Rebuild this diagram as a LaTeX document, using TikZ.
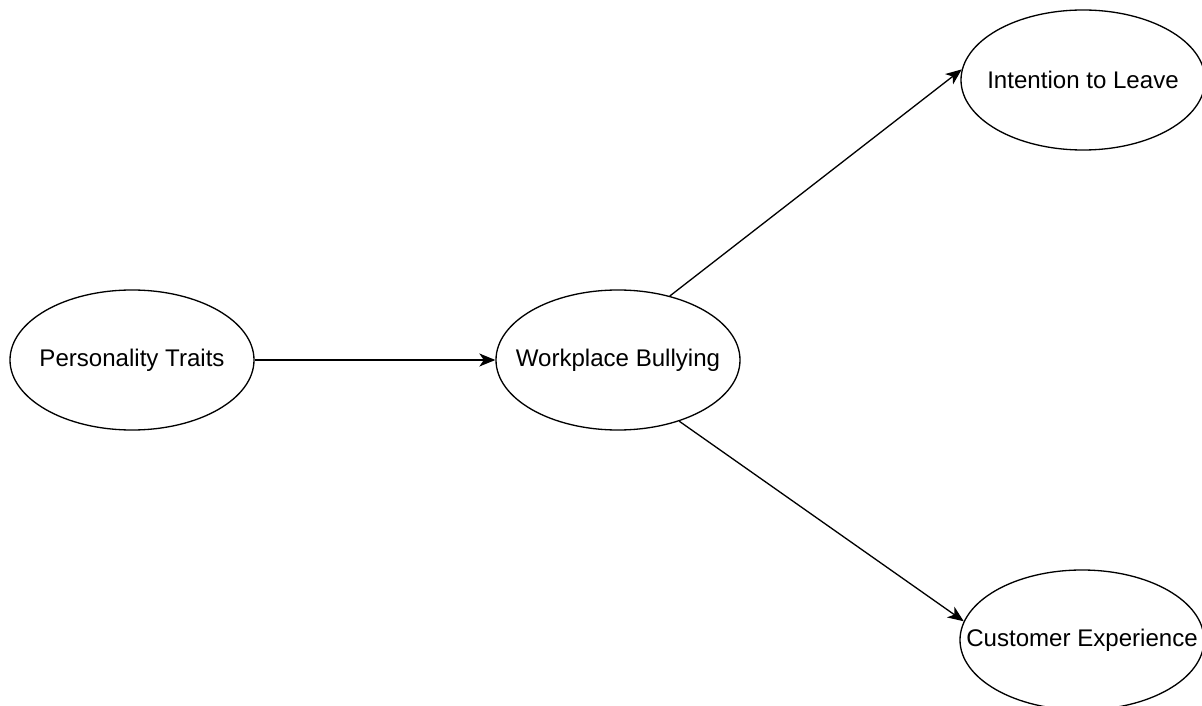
\documentclass[tikz,border=0pt]{standalone}
\usepackage{fontspec}
\setmainfont{Liberation Sans}
\usetikzlibrary{arrows.meta,shapes.geometric}

\begin{document}
\begin{tikzpicture}[>=Stealth,
 e/.style={ellipse,draw,line width=0.75pt,minimum width=4.88cm,minimum height=2.80cm,
   inner xsep=-2cm,inner ysep=0pt,font=\fontsize{13.7}{16}\selectfont},
 a/.style={-{Stealth[length=3.2mm,width=2.6mm,inset=0.9mm]},line width=0.75pt}]
\useasboundingbox (0,0) rectangle (24.04,-14.12);
\node[e] (pt) at (2.64,-7.20) {Personality Traits};
\node[e] (wb) at (12.36,-7.20) {Workplace Bullying};
\node[e] (il) at (21.66,-1.60) {Intention to Leave};
\node[e] (ce) at (21.64,-12.80) {Customer Experience};
\draw[a] (pt)--(wb);
\draw[a] (wb.51)--(il.175);
\draw[a] (wb.-45)--(ce.171);
\end{tikzpicture}
\end{document}
